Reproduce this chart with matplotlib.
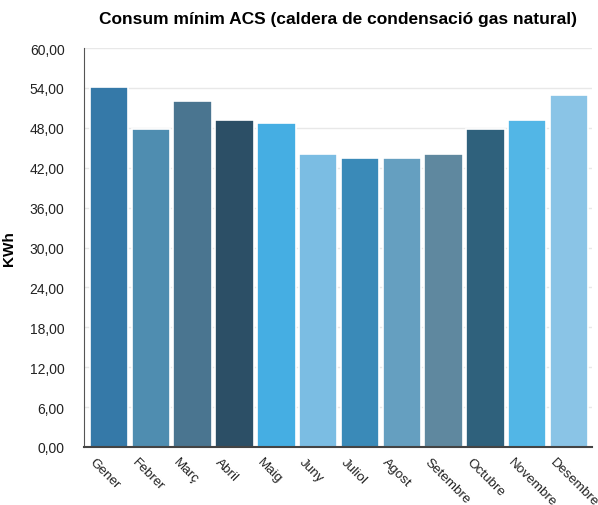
import matplotlib
matplotlib.use("Agg")
import matplotlib.pyplot as plt
import matplotlib.transforms as mtransforms
from matplotlib.ticker import FixedLocator, FuncFormatter

plt.rcParams['font.family'] = ['Liberation Sans', 'DejaVu Sans']

months = ["Gener", "Febrer", "Març", "Abril", "Maig", "Juny", "Juliol",
          "Agost", "Setembre", "Octubre", "Novembre", "Desembre"]
values = [54.1, 47.8, 52.0, 49.2, 48.7, 44.1, 43.5, 43.5, 44.1, 47.8, 49.2, 52.9]
colors = ["#3579a8", "#4f8db0", "#4a7590", "#2c4f66", "#45aee3", "#7bbde3",
          "#3a8ab8", "#659fc0", "#5f889f", "#2f617c", "#52b6e6", "#8ac4e6"]
yticks = [0, 6, 12, 18, 24, 30, 36, 42, 48, 54, 60]

fig = plt.figure(figsize=(5.98, 5.06), dpi=100)
ax = fig.add_axes([84/598, 1-448/506, (592-84)/598, (448-49)/506])

x = list(range(len(months)))
ax.bar(x, values, width=0.92, color=colors, edgecolor="white", linewidth=1.2, zorder=2)
ax.set_xlim(-0.6, len(months) - 0.45)
ax.set_ylim(0, 60)
ax.yaxis.set_major_locator(FixedLocator(yticks))
ax.yaxis.set_major_formatter(FuncFormatter(lambda v, p: f"{v:.2f}".replace(".", ",")))
ax.grid(axis="y", color="#e8e8e8", linewidth=1, zorder=0)
ax.set_axisbelow(True)

for s in ["top", "right"]:
    ax.spines[s].set_visible(False)
ax.spines["left"].set_color("#555555")
ax.spines["bottom"].set_color("#444444")
ax.spines["bottom"].set_linewidth(1.5)
ax.tick_params(axis="both", length=0, labelsize=10, colors="#222222")
ax.tick_params(axis="y", pad=14)

ax.set_xticks(x)
ax.set_xticklabels(months, rotation=-45, ha="left", va="top", rotation_mode="anchor", fontsize=9.7)
offset = mtransforms.ScaledTranslation(-13/100, -4/100, fig.dpi_scale_trans)
for lab in ax.get_xticklabels():
    lab.set_transform(lab.get_transform() + offset)

ax.set_ylabel("KWh", fontsize=11, fontweight="bold", labelpad=10)
ax.set_title("Consum mínim ACS (caldera de condensació gas natural)",
             fontsize=12.5, fontweight="bold", pad=18, x=0.5)

fig.savefig("out.png", dpi=100)
